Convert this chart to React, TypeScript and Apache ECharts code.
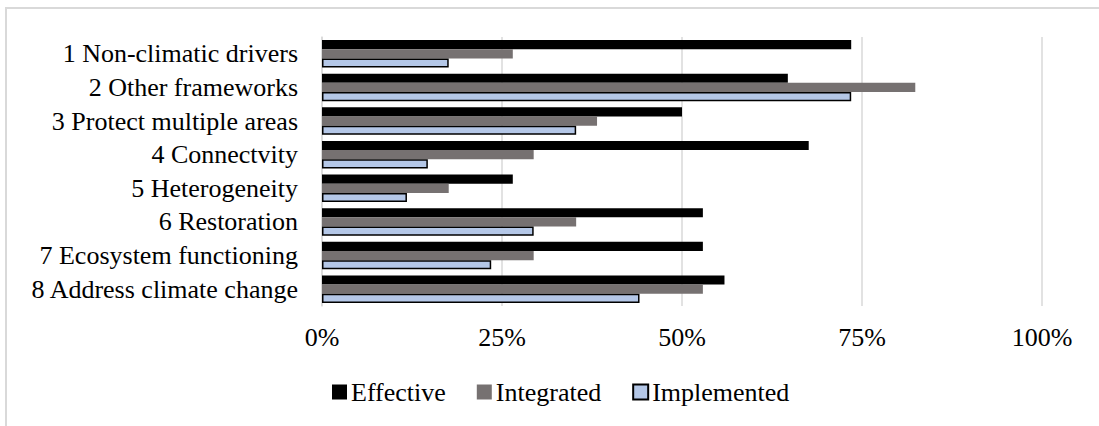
import React, { useEffect, useRef } from "react";
import * as echarts from "echarts";

// Adaptation principles, share of plans (%)
const categories = [
  "1 Non-climatic drivers",
  "2 Other frameworks",
  "3 Protect multiple areas",
  "4 Connectvity",
  "5 Heterogeneity",
  "6 Restoration",
  "7 Ecosystem functioning",
  "8 Address climate change",
];

const effective = [73.5, 64.7, 50.0, 67.6, 26.5, 52.9, 52.9, 55.9];
const integrated = [26.5, 82.4, 38.2, 29.4, 17.6, 35.3, 29.4, 52.9];
const implemented = [17.6, 73.5, 35.3, 14.7, 11.8, 29.4, 23.5, 44.1];

const xTicks = [0, 25, 50, 75, 100];

const FONT = "'Liberation Serif', 'Times New Roman', serif";

export default function App() {
  const ref = useRef<HTMLDivElement>(null);

  useEffect(() => {
    document.body.style.margin = "0";
    if (!ref.current) return;
    const chart = echarts.init(ref.current, undefined, { renderer: "svg" });

    const barW = 9.2;

    chart.setOption({
      animation: false,
      backgroundColor: "#ffffff",
      textStyle: { fontFamily: FONT, color: "#000" },
      graphic: [
        {
          type: "rect",
          shape: { x: 6, y: 8, width: 1200, height: 600 },
          style: { fill: "none", stroke: "#D9D9D9", lineWidth: 2 },
          silent: true,
          z: -10,
        },
      ],
      grid: { left: 322, top: 37, width: 720, height: 269, containLabel: false },
      xAxis: {
        type: "value",
        min: xTicks[0],
        max: xTicks[xTicks.length - 1],
        interval: 25,
        axisLine: { show: false },
        axisTick: { show: false },
        splitLine: { show: true, lineStyle: { color: "#D9D9D9", width: 1.5 } },
        axisLabel: {
          margin: 18,
          fontSize: 26,
          fontFamily: FONT,
          color: "#000",
          formatter: (v: number) => `${v}%`,
        },
      },
      yAxis: {
        type: "category",
        data: categories,
        inverse: true,
        axisLine: { show: true, lineStyle: { color: "#D9D9D9", width: 1.5 } },
        axisTick: { show: false },
        axisLabel: {
          interval: 0,
          margin: 24,
          fontSize: 26,
          fontFamily: FONT,
          color: "#000",
        },
      },
      legend: {
        left: 327,
        top: 374,
        icon: "rect",
        itemWidth: 15,
        itemHeight: 15,
        itemGap: 31,
        textStyle: { fontSize: 26, fontFamily: FONT, color: "#000", padding: [0, 0, 0, -1] },
        data: ["Effective", "Integrated", "Implemented"],
      },
      series: [
        {
          name: "Effective",
          type: "bar",
          data: effective,
          barWidth: barW,
          barGap: "0%",
          itemStyle: { color: "#000000" },
        },
        {
          name: "Integrated",
          type: "bar",
          data: integrated,
          barWidth: barW,
          barGap: "0%",
          itemStyle: { color: "#767171" },
        },
        {
          name: "Implemented",
          type: "bar",
          data: implemented,
          barWidth: barW,
          barGap: "0%",
          itemStyle: { color: "#B4C7E7", borderColor: "#000000", borderWidth: 1.5 },
        },
      ],
    });

    return () => chart.dispose();
  }, []);

  return <div ref={ref} style={{ width: 1099, height: 426 }} />;
}
